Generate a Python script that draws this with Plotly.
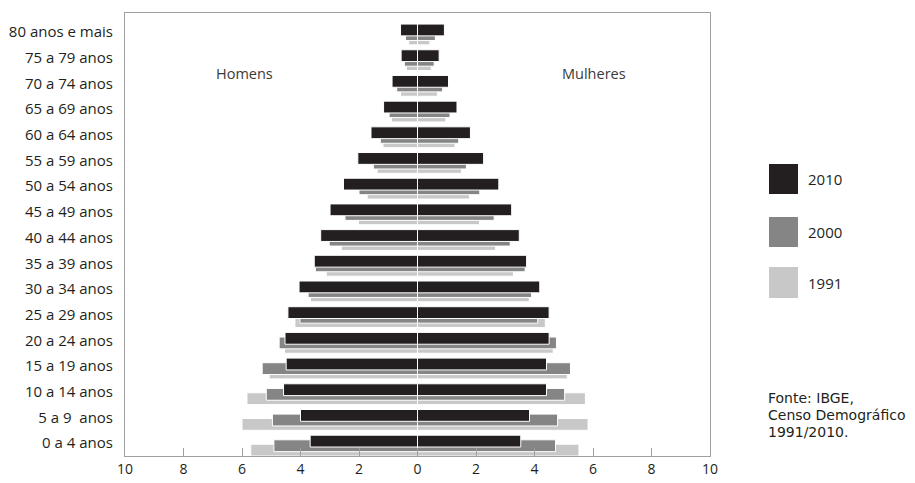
import plotly.graph_objects as go

ages = ["0 a 4 anos", "5 a 9\u00a0 anos", "10 a 14 anos", "15 a 19 anos", "20 a 24 anos",
        "25 a 29 anos", "30 a 34 anos", "35 a 39 anos", "40 a 44 anos", "45 a 49 anos",
        "50 a 54 anos", "55 a 59 anos", "60 a 64 anos", "65 a 69 anos", "70 a 74 anos",
        "75 a 79 anos", "80 anos e mais"]

homens_2010 = [3.67, 4.00, 4.58, 4.49, 4.53, 4.43, 4.05, 3.53, 3.31, 2.99, 2.53, 2.04, 1.59, 1.16, 0.87, 0.56, 0.58]
homens_2000 = [4.91, 4.96, 5.17, 5.31, 4.73, 4.02, 3.74, 3.49, 3.02, 2.48, 2.00, 1.51, 1.27, 0.97, 0.71, 0.45, 0.41]
homens_1991 = [5.70, 6.00, 5.83, 5.07, 4.55, 4.19, 3.66, 3.12, 2.61, 2.02, 1.72, 1.38, 1.18, 0.89, 0.58, 0.38, 0.30]
mulheres_2010 = [3.53, 3.83, 4.41, 4.41, 4.50, 4.50, 4.18, 3.73, 3.48, 3.22, 2.78, 2.26, 1.81, 1.35, 1.06, 0.74, 0.92]
mulheres_2000 = [4.72, 4.79, 5.03, 5.23, 4.75, 4.11, 3.90, 3.68, 3.17, 2.62, 2.13, 1.67, 1.41, 1.11, 0.86, 0.57, 0.61]
mulheres_1991 = [5.52, 5.83, 5.74, 5.12, 4.64, 4.37, 3.82, 3.28, 2.67, 2.12, 1.78, 1.50, 1.28, 0.97, 0.68, 0.47, 0.42]

x_ticks = [-10, -8, -6, -4, -2, 0, 2, 4, 6, 8, 10]
x_ticktext = ["10", "8", "6", "4", "2", "0", "2", "4", "6", "8", "10"]

years = ["1991", "2000", "2010"]
colors = {"2010": "#231f20", "2000": "#858585", "1991": "#c8c8c8"}
offsets = {"2010": -0.15, "2000": -0.33, "1991": -0.50}
homens = {"2010": homens_2010, "2000": homens_2000, "1991": homens_1991}
mulheres = {"2010": mulheres_2010, "2000": mulheres_2000, "1991": mulheres_1991}

fonte_lines = ["Fonte: IBGE,", "Censo Demográfico", "1991/2010."]

pos = list(range(len(ages)))
fig = go.Figure()
for yr in years:
    for vals, sign in ((homens[yr], -1), (mulheres[yr], 1)):
        fig.add_trace(go.Bar(
            y=pos, x=[sign * v for v in vals], orientation="h",
            width=0.46, offset=offsets[yr],
            marker=dict(color=colors[yr], line=dict(color="white", width=1)),
            name=yr, showlegend=False, hoverinfo="skip"))

# the page body adds an 8px margin; compensate so the picture lands on 915x483
OFF = 8
W, H = 915 - OFF, 483 - OFF
L, R, T, B = 125 - OFF, 710 - OFF, 13 - OFF, 456 - OFF
def px(x):
    return (x - OFF - L) / (R - L)
def py(y):
    return (B - (y - OFF)) / (B - T)

font = "Open Sans, Noto Sans, sans-serif"
fig.update_layout(
    width=W, height=H, barmode="overlay",
    margin=dict(l=L, r=W - R, t=T, b=H - B, autoexpand=False),
    paper_bgcolor="white", plot_bgcolor="white",
    font=dict(family=font, size=13, color="#231f20"),
    xaxis=dict(range=[-10, 10], tickvals=x_ticks, ticktext=x_ticktext,
               ticks="inside", ticklen=8, tickcolor="#a0a0a0", tickwidth=1,
               showline=True, linecolor="#a0a0a0", linewidth=1, mirror=True,
               showgrid=False, zeroline=False, tickfont=dict(size=14),
               automargin=False),
    yaxis=dict(range=[-0.5, 16.74], tickvals=pos, ticktext=ages,
               showline=True, linecolor="#a0a0a0", linewidth=1, mirror=True,
               showgrid=False, zeroline=False, ticks="", ticklabelstandoff=8,
               tickfont=dict(size=15), automargin=False),
)

for text, xc in (("Homens", 244), ("Mulheres", 594)):
    fig.add_annotation(xref="paper", yref="paper", x=px(xc), y=py(73), text=text,
                       showarrow=False, xanchor="center", yanchor="middle",
                       font=dict(size=14.5, color="#3a3a3a"))

legend_rows = [("2010", 164, 194), ("2000", 217, 247), ("1991", 267, 298)]
for yr, y0, y1 in legend_rows:
    fig.add_shape(type="rect", xref="paper", yref="paper",
                  x0=px(769), x1=px(798), y0=py(y1), y1=py(y0),
                  fillcolor=colors[yr], line=dict(width=0))
    fig.add_annotation(xref="paper", yref="paper", x=px(806), y=py((y0 + y1) / 2),
                       text=yr, showarrow=False, xanchor="left", yanchor="middle",
                       font=dict(size=15, color="#231f20"))

for i, line in enumerate(fonte_lines):
    fig.add_annotation(xref="paper", yref="paper", x=px(766), y=py(398 + 17 * i),
                       text=line, showarrow=False, xanchor="left", yanchor="middle",
                       font=dict(family="DejaVu Sans, sans-serif", size=14, color="#231f20"))

fig.write_html("out.html")
